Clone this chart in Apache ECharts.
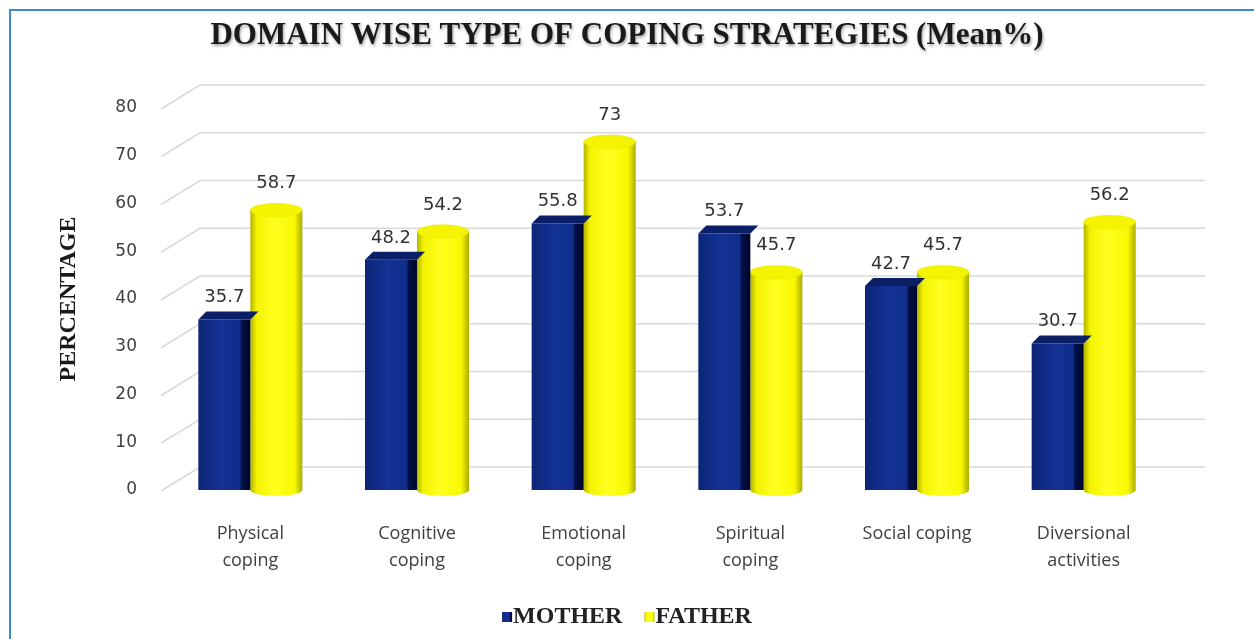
<!DOCTYPE html>
<html>
<head>
<meta charset="utf-8">
<script src="https://cdn.jsdelivr.net/npm/echarts@6/dist/echarts.min.js"></script>
<style>
html,body{margin:0;padding:0;background:#fff;}
#chart{width:1254px;height:639px;}
#frame{position:absolute;left:9px;top:9px;right:0;bottom:0;border-top:2px solid #3f8bd2;border-left:2px solid #3f8bd2;pointer-events:none;}
</style>
</head>
<body>
<div id="chart"></div>
<div id="frame"></div>
<script>
const categories = ['Physical\ncoping', 'Cognitive\ncoping', 'Emotional\ncoping', 'Spiritual\ncoping', 'Social coping', 'Diversional\nactivities'];
const motherValues = [35.7, 48.2, 55.8, 53.7, 42.7, 30.7];
const fatherValues = [58.7, 54.2, 73, 45.7, 45.7, 56.2];
const yTicks = [0, 10, 20, 30, 40, 50, 60, 70, 80];
const seriesNames = ['MOTHER', 'FATHER'];
const titleText = 'DOMAIN WISE TYPE OF COPING STRATEGIES (Mean%)';
const yAxisTitle = 'PERCENTAGE';

const chart = echarts.init(document.getElementById('chart'));

const navyGrad = new echarts.graphic.LinearGradient(0, 0, 1, 0, [
  {offset: 0, color: '#0c2576'},
  {offset: 0.45, color: '#133295'},
  {offset: 0.8, color: '#102d8a'},
  {offset: 0.83, color: '#03104a'},
  {offset: 1, color: '#000826'}
]);
const yellowGrad = () => new echarts.graphic.LinearGradient(0, 0, 1, 0, [
  {offset: 0, color: '#b4b400'},
  {offset: 0.12, color: '#f2f200'},
  {offset: 0.45, color: '#ffff20'},
  {offset: 0.85, color: '#f8f800'},
  {offset: 1, color: '#acac00'}
]);

const labelFont = {fontFamily: 'DejaVu Sans', fontSize: 18, color: '#333333'};

chart.setOption({
  animation: false,
  title: {
    text: titleText,
    left: 'center',
    top: 15,
    textStyle: {
      fontFamily: 'Liberation Serif', fontWeight: 'bold', fontSize: 31, color: '#1a1a1a',
      textShadowColor: 'rgba(0,0,0,0.35)', textShadowBlur: 3, textShadowOffsetX: 1, textShadowOffsetY: 2
    }
  },
  legend: {
    data: seriesNames,
    bottom: 5,
    left: 'center',
    icon: 'rect',
    itemWidth: 10,
    itemHeight: 10,
    itemGap: 22,
    textStyle: {fontFamily: 'Liberation Serif', fontWeight: 'bold', fontSize: 24, color: '#222', padding: [0, 0, 0, -4]}
  },
  grid: {left: 167, right: 87, top: 108, bottom: 149},
  xAxis: {
    type: 'category',
    data: categories,
    axisLine: {show: false},
    axisTick: {show: false},
    axisLabel: {
      margin: 30, interval: 0,
      fontFamily: 'Open Sans', fontSize: 18, color: '#404040', lineHeight: 27
    }
  },
  yAxis: {
    type: 'value',
    min: 0, max: 80, interval: 10,
    name: yAxisTitle,
    nameLocation: 'middle',
    nameGap: 86,
    nameRotate: 90,
    nameTextStyle: {fontFamily: 'Liberation Serif', fontWeight: 'bold', fontSize: 24, color: '#1a1a1a'},
    axisLine: {show: false},
    axisTick: {show: false},
    splitLine: {show: false},
    axisLabel: {margin: 30, ...labelFont, fontSize: 17, color: '#404040'}
  },
  series: [
    {
      type: 'custom',
      name: 'grid',
      silent: true,
      z: 0,
      data: yTicks.map(v => [0, v]),
      renderItem: function (params, api) {
        const cs = params.coordSys;
        const yFront = api.coord([0, api.value(1)])[1];
        const x0 = cs.x;
        return {
          type: 'polyline',
          shape: {points: [[x0 - 6, yFront + 1], [x0 + 33, yFront - 23], [x0 + cs.width + 38, yFront - 23]]},
          style: {stroke: '#d9d9d9', lineWidth: 1.5, fill: null}
        };
      }
    },
    {
      type: 'bar',
      name: seriesNames[0],
      data: motherValues,
      barWidth: 52,
      barGap: '0%',
      itemStyle: {color: navyGrad},
      z: 3,
      label: {show: true, position: 'top', distance: 13, ...labelFont}
    },
    {
      type: 'bar',
      name: seriesNames[1],
      data: fatherValues,
      barWidth: 52,
      barGap: '0%',
      itemStyle: {color: yellowGrad()},
      z: 2,
      label: {show: true, position: 'top', distance: 17, ...labelFont}
    },
    {
      type: 'pictorialBar',
      name: 'motherTop',
      data: motherValues,
      symbol: 'path://M0,8 L8,0 L60,0 L52,8 Z',
      symbolSize: [60, 8],
      symbolPosition: 'end',
      symbolOffset: [-22, '-100%'],
      itemStyle: {color: '#0a1f66'},
      silent: true,
      z: 4
    },
    {
      type: 'pictorialBar',
      name: 'fatherTop',
      data: fatherValues,
      symbol: 'circle',
      symbolSize: [52, 14],
      symbolPosition: 'end',
      symbolOffset: ['50%', '-50%'],
      itemStyle: {color: '#f4f400', borderColor: '#b8b800', borderWidth: 1.5},
      silent: true,
      z: 3
    },
    {
      type: 'pictorialBar',
      name: 'fatherBottom',
      data: fatherValues,
      symbol: 'circle',
      symbolSize: [52, 12],
      symbolPosition: 'start',
      symbolOffset: ['50%', '50%'],
      itemStyle: {color: yellowGrad()},
      silent: true,
      z: 1
    }
  ]
});
</script>
</body>
</html>
